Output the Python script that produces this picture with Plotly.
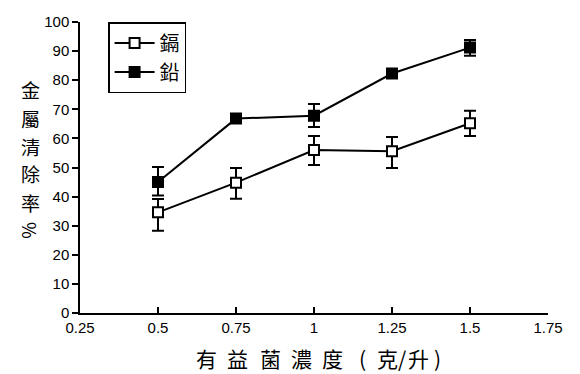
import plotly.graph_objects as go

conc = [0.5, 0.75, 1.0, 1.25, 1.5]
cd_vals = [34.6, 44.8, 56.0, 55.6, 65.2]
cd_err_plus = [4.6, 5.0, 4.8, 4.9, 4.3]
cd_err_minus = [6.3, 5.5, 5.1, 5.8, 4.4]
pb_vals = [45.0, 66.8, 67.8, 82.3, 91.2]
pb_err_plus = [5.2, 1.3, 4.0, 0.8, 2.6]
pb_err_minus = [4.6, 1.3, 3.9, 0.8, 2.8]

x_ticks = [0.25, 0.5, 0.75, 1, 1.25, 1.5, 1.75]
x_tick_text = ["0.25", "0.5", "0.75", "1", "1.25", "1.5", "1.75"]
y_ticks = list(range(0, 101, 10))

x_title_chars = ["有", "益", "菌", "濃", "度", "(", "克", "/", "升", ")"]
y_title_chars = ["金", "屬", "清", "除", "率", "%"]

cjk = "Noto Sans CJK TC"

# plot area in pixels (layout only)
L, R, T, B = 80, 32, 22, 61
W, H = 580, 374
PW, PH = W - L - R, H - T - B

def px2paper_x(px):
    return (px - L) / PW

def px2paper_y(py):
    return (H - B - py) / PH

fig = go.Figure()
fig.add_trace(go.Scatter(
    x=conc, y=cd_vals, name="鎘", mode="lines+markers",
    line=dict(color="black", width=2),
    marker=dict(symbol="square", size=10, color="white", line=dict(color="black", width=2)),
    error_y=dict(type="data", array=cd_err_plus, arrayminus=cd_err_minus,
                 color="black", thickness=2, width=6),
))
fig.add_trace(go.Scatter(
    x=conc, y=pb_vals, name="鉛", mode="lines+markers",
    line=dict(color="black", width=2),
    marker=dict(symbol="square", size=10, color="black", line=dict(color="black", width=2)),
    error_y=dict(type="data", array=pb_err_plus, arrayminus=pb_err_minus,
                 color="black", thickness=2, width=6),
))

annotations = []
x_centers = [206, 237, 270, 301, 332, 362, 387, 402, 418, 437]
for ch, cx in zip(x_title_chars, x_centers):
    annotations.append(dict(text=ch, xref="paper", yref="paper",
                            x=px2paper_x(cx), y=px2paper_y(358),
                            xanchor="center", yanchor="middle", showarrow=False,
                            font=dict(family=cjk, size=21, color="black")))
y_centers = [90, 118, 146, 174, 202, 230]
for ch, cy in zip(y_title_chars, y_centers):
    annotations.append(dict(text=ch, xref="paper", yref="paper",
                            x=px2paper_x(30), y=px2paper_y(cy),
                            xanchor="center", yanchor="middle", showarrow=False,
                            textangle=90 if ch == "%" else 0,
                            font=dict(family=cjk, size=19 if ch != "%" else 18, color="black")))

fig.update_layout(
    width=W, height=H,
    margin=dict(l=L, r=R, t=T, b=B),
    paper_bgcolor="white", plot_bgcolor="white",
    font=dict(family="Liberation Sans, Arial", size=15, color="black"),
    showlegend=True,
    legend=dict(x=0.06, y=1.0, xanchor="left", yanchor="top",
                bordercolor="black", borderwidth=1.5, bgcolor="white",
                font=dict(family=cjk, size=20, color="black"),
                itemwidth=40, tracegroupgap=4),
    xaxis=dict(range=[0.25, 1.75], tickvals=x_ticks, ticktext=x_tick_text,
               showgrid=False, zeroline=False, showline=True, linecolor="black", linewidth=1.5,
               ticks="inside", ticklen=6, tickwidth=1.5, tickcolor="black",
               tickfont=dict(size=15)),
    yaxis=dict(range=[0, 100], tickvals=y_ticks,
               showgrid=False, zeroline=False, showline=True, linecolor="black", linewidth=1.5,
               ticks="outside", ticklen=6, tickwidth=1.5, tickcolor="black",
               tickfont=dict(size=15)),
    annotations=annotations,
)

fig.write_html("out.html", config={"displayModeBar": False},
               post_script="document.body.style.margin='0';document.body.style.overflow='hidden';")
